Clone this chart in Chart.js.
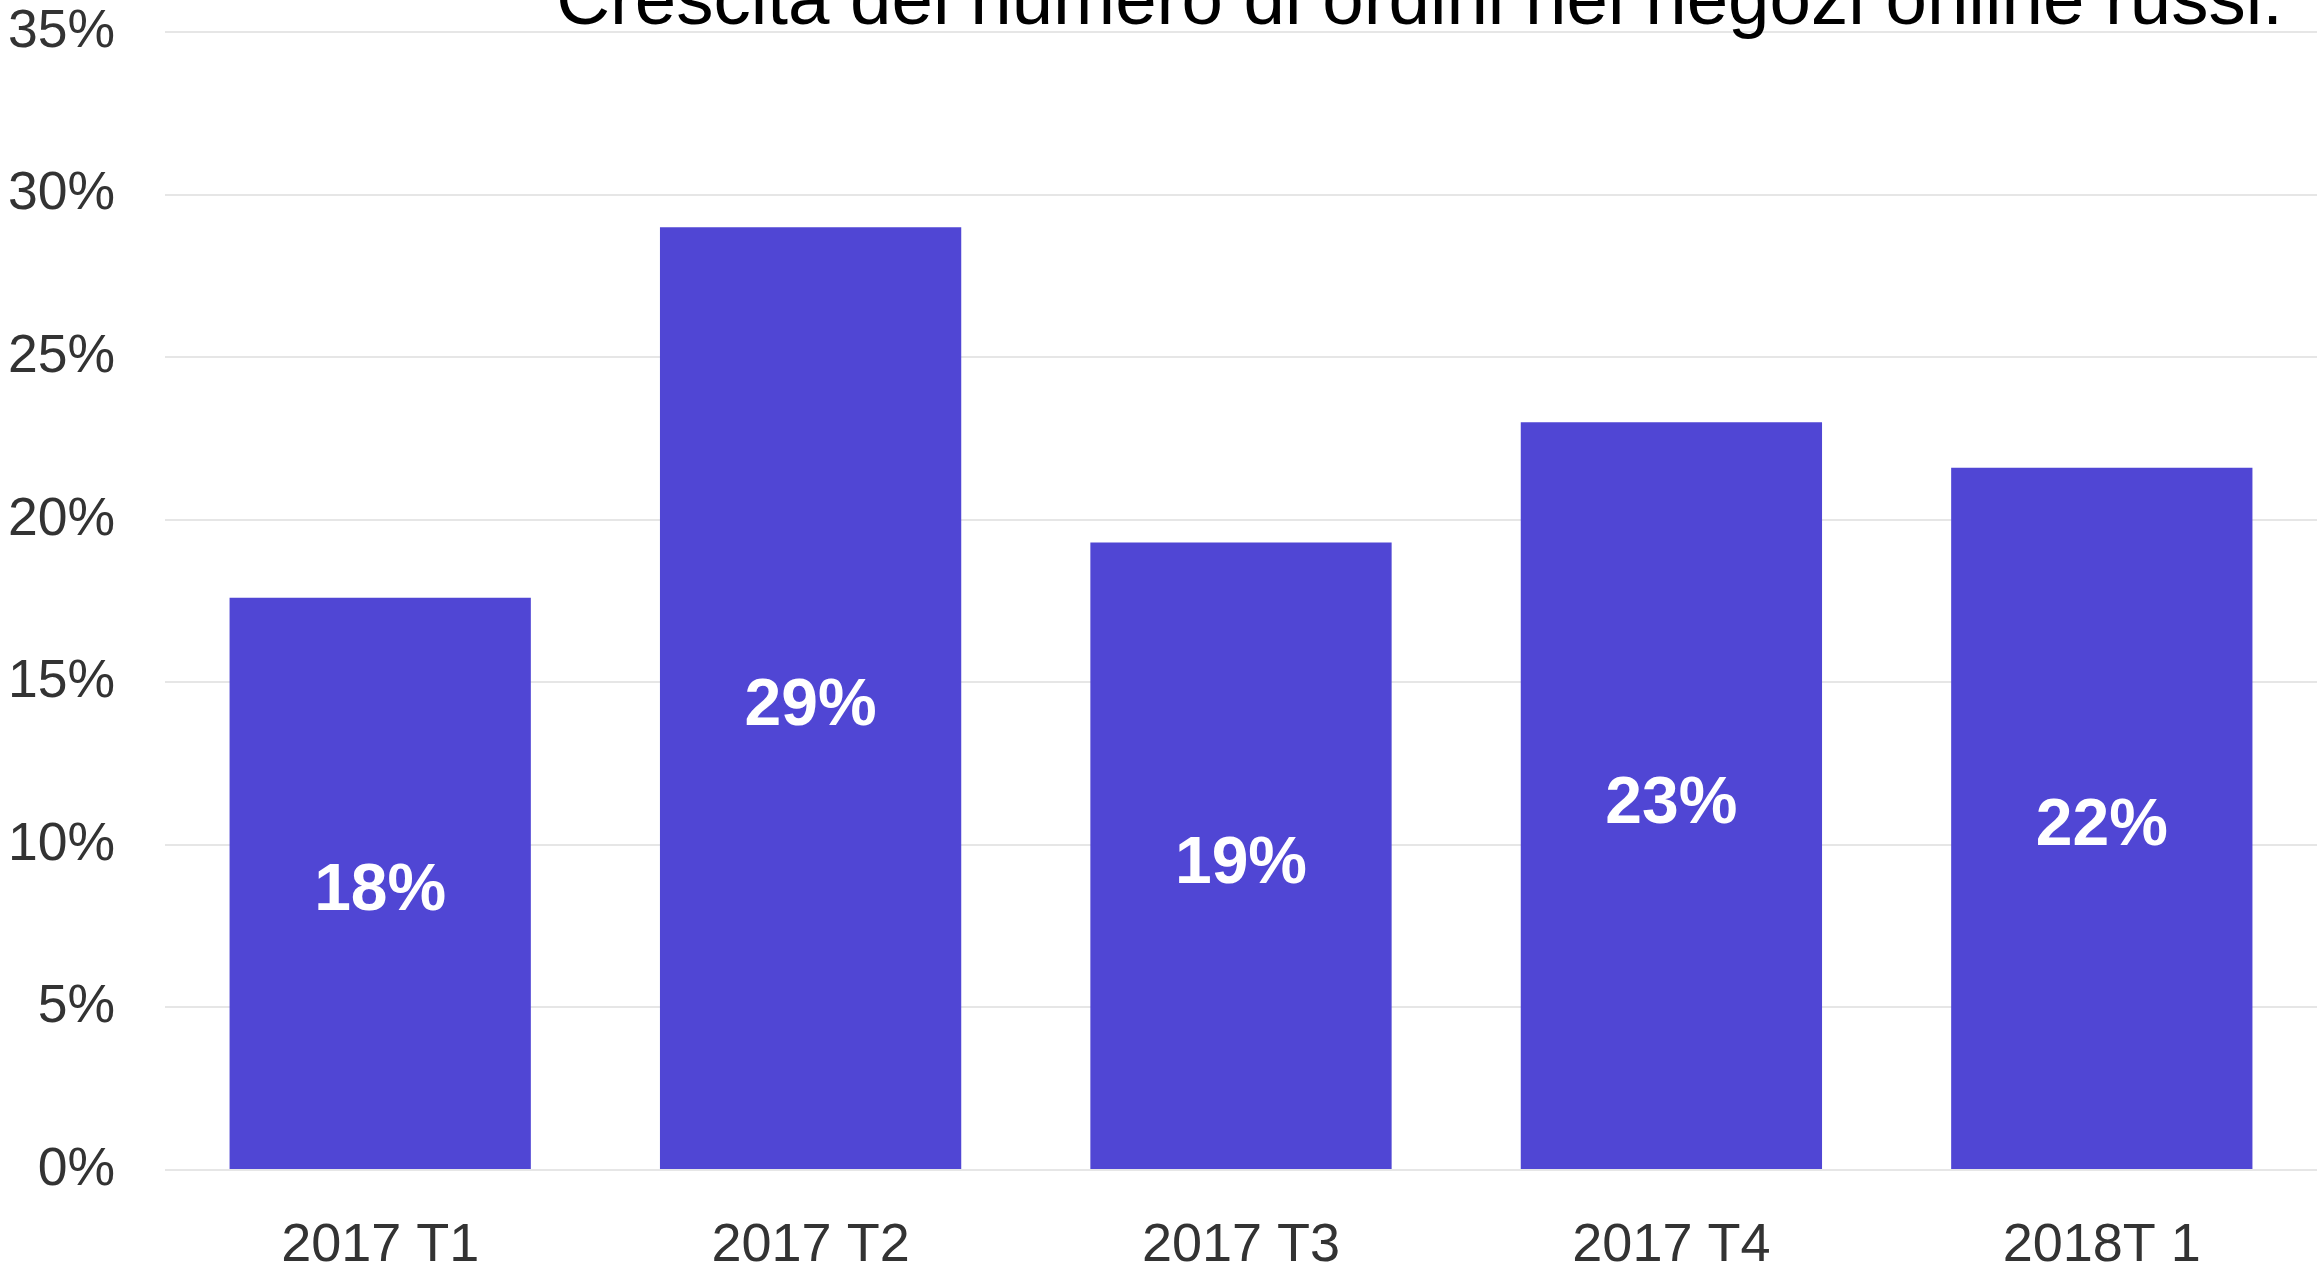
<!DOCTYPE html>
<html>
<head>
<meta charset="utf-8">
<script src="https://cdn.jsdelivr.net/npm/chart.js@4"></script>
<style>
  body { margin: 0; background: #ffffff; }
  canvas { display: block; }
</style>
</head>
<body>
<canvas id="barChart" width="2317" height="1266"></canvas>
<script>
const titleText = "Crescita del numero di ordini nei negozi online russi.";
const quarters = ["2017 T1", "2017 T2", "2017 T3", "2017 T4", "2018T 1"];
const growth = [17.6, 29.0, 19.3, 23.0, 21.6];
const yTicks = [0, 5, 10, 15, 20, 25, 30, 35];

const fontFamily = '"Liberation Sans", Arial, sans-serif';

// white value labels in the middle of each bar
const barLabels = {
  id: "barLabels",
  afterDatasetsDraw(chart) {
    const ctx = chart.ctx;
    const meta = chart.getDatasetMeta(0);
    ctx.save();
    ctx.font = "bold 66px " + fontFamily;
    ctx.fillStyle = "#ffffff";
    ctx.textAlign = "center";
    ctx.textBaseline = "alphabetic";
    meta.data.forEach((bar, i) => {
      const mid = (bar.y + bar.base) / 2;
      // baseline a bit under the middle so the digits look centred
      ctx.fillText(Math.round(growth[i]) + "%", bar.x, mid + 27);
    });
    ctx.restore();
  },
};

// title sits partly above the top edge, like in the original
const cutTitle = {
  id: "cutTitle",
  afterDraw(chart) {
    const ctx = chart.ctx;
    ctx.save();
    ctx.font = "74.5px " + fontFamily;
    ctx.fillStyle = "#000000";
    ctx.textAlign = "right";
    ctx.textBaseline = "alphabetic";
    ctx.fillText(titleText, chart.chartArea.right - 34, 24);
    ctx.restore();
  },
};

const ctx = document.getElementById("barChart").getContext("2d");

new Chart(ctx, {
  type: "bar",
  data: {
    labels: quarters,
    datasets: [
      {
        label: titleText,
        data: growth,
        backgroundColor: "#5046d4",
        borderWidth: 0,
        barPercentage: 0.7,
        categoryPercentage: 1.0,
      },
    ],
  },
  options: {
    responsive: false,
    animation: false,
    devicePixelRatio: 1,
    layout: {
      padding: 0,
    },
    plugins: {
      legend: { display: false },
      title: { display: false },
      tooltip: { enabled: false },
    },
    scales: {
      x: {
        grid: { display: false },
        border: { display: false },
        ticks: {
          color: "#333333",
          font: { family: fontFamily, size: 54 },
          padding: 36,
          maxRotation: 0,
        },
        afterFit(scale) {
          scale.height = 96;
        },
      },
      y: {
        min: yTicks[0],
        max: yTicks[yTicks.length - 1],
        grid: {
          color: "#e6e6e6",
          lineWidth: 2,
          drawTicks: true,
          tickLength: 50,
          tickColor: "rgba(0,0,0,0)",
        },
        border: { display: false },
        ticks: {
          stepSize: yTicks[1] - yTicks[0],
          color: "#333333",
          font: { family: fontFamily, size: 53.5 },
          padding: 0,
          callback: (v) => v + "%",
        },
        afterFit(scale) {
          scale.width = 165;
        },
      },
    },
  },
  plugins: [barLabels, cutTitle],
});
</script>
</body>
</html>
